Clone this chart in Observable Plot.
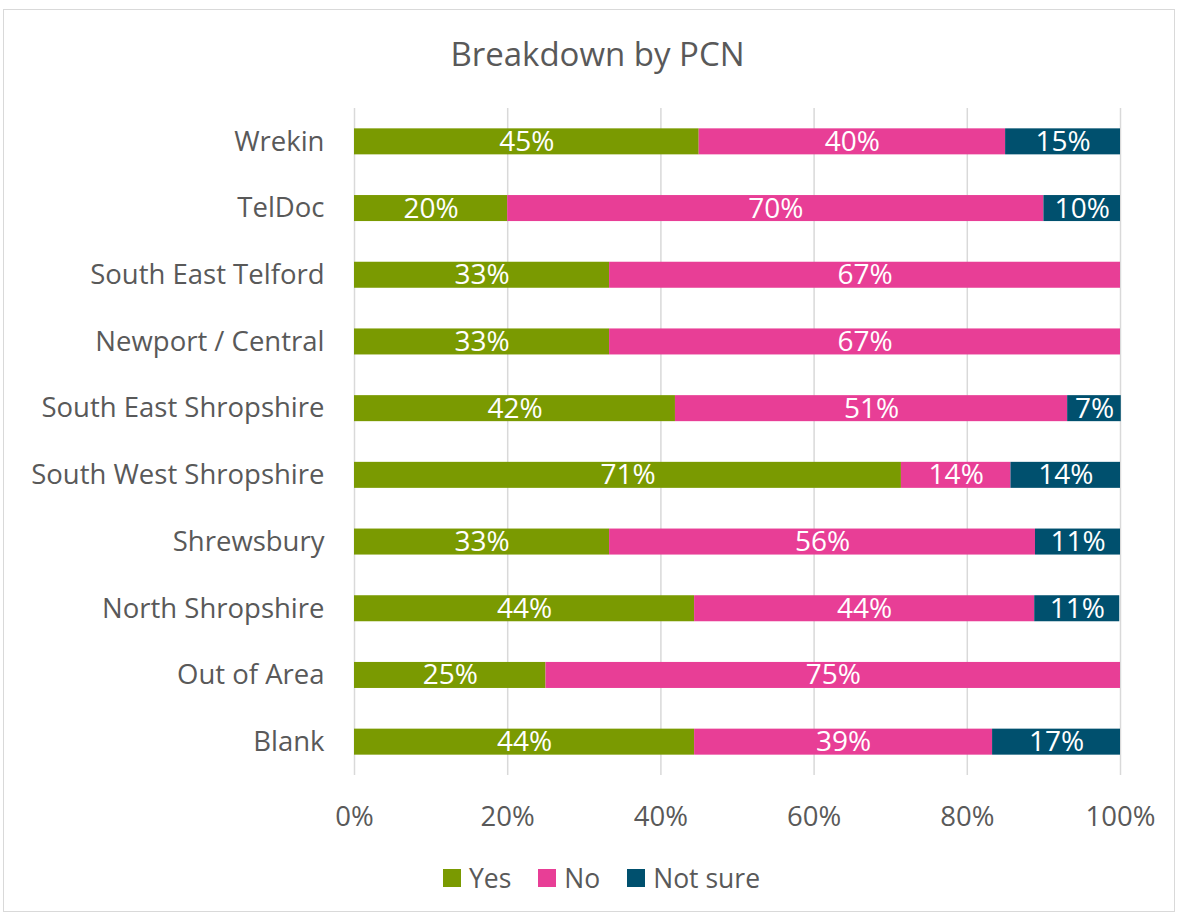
<!DOCTYPE html>
<html>
<head>
<meta charset="utf-8">
<script src="https://cdn.jsdelivr.net/npm/d3@7"></script>
<script src="https://cdn.jsdelivr.net/npm/@observablehq/plot@0.6"></script>
<style>
  html, body { margin: 0; padding: 0; background: #fff; }
  #frame { position: absolute; left: 3px; top: 9px; width: 1172px; height: 903px; border: 1px solid #d9d9d9; box-sizing: border-box; }
  #title { position: absolute; left: 0; top: 0; width: 1179px; height: 100px; }
  #title span { position: absolute; left: 0; width: 1195px; text-align: center; top: 31px; font-family: "Open Sans", sans-serif; font-size: 33px; color: #595959; }
  #chart { position: absolute; left: 0; top: 100px; }
  #legend { position: absolute; left: 0; top: 860px; width: 1203px; display: flex; justify-content: center; gap: 27px; font-family: "Open Sans", sans-serif; font-size: 26.5px; color: #595959; }
  #legend .item { display: flex; align-items: center; gap: 8px; }
  #legend .sw { width: 18px; height: 18px; display: inline-block; }
</style>
</head>
<body>
<div id="frame"></div>
<div id="title"><span>Breakdown by PCN</span></div>
<div id="chart"></div>
<div id="legend"></div>
<script>
const pcns = ["Wrekin", "TelDoc", "South East Telford", "Newport / Central", "South East Shropshire", "South West Shropshire", "Shrewsbury", "North Shropshire", "Out of Area", "Blank"];
const responses = ["Yes", "No", "Not sure"];
const yesValues = [45, 20, 33.3, 33.3, 41.9, 71.4, 33.3, 44.4, 25, 44.4];
const noValues = [40, 70, 66.7, 66.7, 51.2, 14.3, 55.6, 44.4, 75, 38.9];
const notSureValues = [15, 10, 0, 0, 7, 14.3, 11.1, 11.1, 0, 16.7];
const xTicks = [0, 20, 40, 60, 80, 100];
const colors = ["#7a9a01", "#e83e96", "#00506e"];

const series = [yesValues, noValues, notSureValues];
const data = [];
pcns.forEach((p, i) => {
  responses.forEach((r, j) => {
    data.push({pcn: p, resp: r, value: series[j][i]});
  });
});

const chart = Plot.plot({
  width: 1179,
  height: 745,
  marginLeft: 354,
  marginRight: 59,
  marginTop: 8,
  marginBottom: 70,
  style: {fontFamily: "'Open Sans', sans-serif", fontSize: "27.5px", color: "#595959", background: "transparent"},
  x: {domain: [0, 100], label: null},
  y: {domain: pcns, paddingInner: 0.61, paddingOuter: 0.305, round: false, label: null},
  color: {domain: responses, range: colors},
  marks: [
    Plot.ruleX(xTicks, {stroke: "#d9d9d9", strokeWidth: 1.5}),
    Plot.barX(data, Plot.stackX({x: "value", y: "pcn", fill: "resp", order: responses})),
    Plot.text(data.filter(d => d.value > 0), Plot.stackX({x: "value", y: "pcn", z: "resp", order: responses, text: d => Math.round(d.value) + "%", fill: "white", fontSize: 28})),
    Plot.axisY({tickSize: 0, tickPadding: 30, label: null, fill: "#595959"}),
    Plot.axisX({ticks: xTicks, tickFormat: d => d + "%", tickSize: 0, tickPadding: 31, label: null, fill: "#595959"})
  ]
});
document.getElementById("chart").appendChild(chart);

const legend = document.getElementById("legend");
responses.forEach((r, j) => {
  const item = document.createElement("div");
  item.className = "item";
  const sw = document.createElement("span");
  sw.className = "sw";
  sw.style.background = colors[j];
  const t = document.createElement("span");
  t.textContent = r;
  item.appendChild(sw);
  item.appendChild(t);
  legend.appendChild(item);
});
</script>
</body>
</html>
